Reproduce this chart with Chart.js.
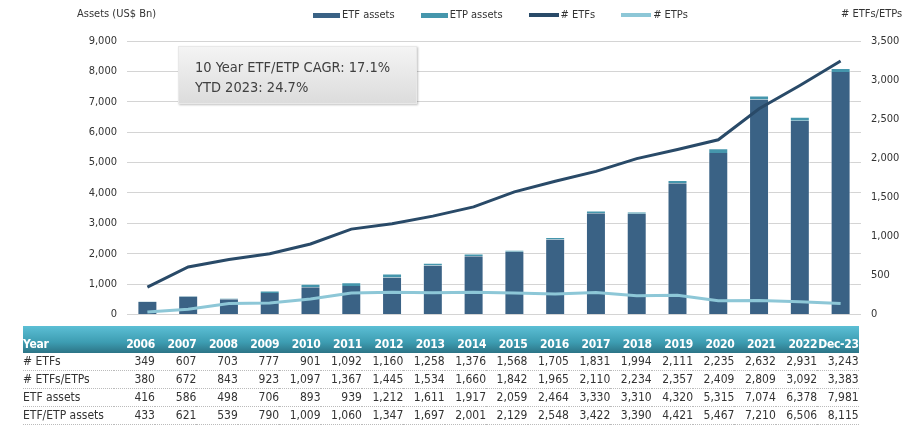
<!DOCTYPE html>
<html><head><meta charset="utf-8">
<script src="https://cdn.jsdelivr.net/npm/chart.js@4"></script>
<style>
body{margin:0;width:910px;height:427px;background:#fff;font-family:Tahoma,"DejaVu Sans Condensed","DejaVu Sans",sans-serif;overflow:hidden;position:relative;color:#333}
#wrap{position:absolute;left:0;top:0;width:910px;height:331px}
#legend{position:absolute;left:313px;top:8px;display:flex;gap:26px;font-size:11px;color:#333;line-height:14px}
#legend .it{display:flex;align-items:center}
#legend .sw{display:inline-block;width:27px;height:5px;margin-right:2px}
#legend .ln{width:30px;height:4px}
.atitle{position:absolute;top:7px;font-size:11px;color:#333}
#box{position:absolute;left:178px;top:46px;width:221px;padding-left:16px;background:linear-gradient(#f4f4f4,#dcdcdc);border:1px solid #e8e8e8;box-shadow:1px 1px 2px rgba(0,0,0,0.25);font-size:14.5px;color:#404040;line-height:20px;padding-top:10px;box-sizing:content-box;height:46px}
#tbl{position:absolute;left:23px;top:326px;border-collapse:collapse;font-size:12px}
#tbl td{padding:0;text-align:right;white-space:nowrap}
#tbl td.lab{text-align:left}
#tbl tr.hd td{background:linear-gradient(#5cbfd5,#3d9db2 60%,#2c7486);color:#fff;font-weight:bold;font-size:12px;letter-spacing:-0.3px;height:26px;vertical-align:bottom;line-height:15px;padding-bottom:1px}
#tbl tr.rw td{height:17px;line-height:17px;border-bottom:1px dotted #bbb;color:#333}
</style></head>
<body>
<div id="wrap"><canvas id="c" width="910" height="331"></canvas></div>
<div id="legend"></div>
<div class="atitle" style="left:77px">Assets (US$ Bn)</div>
<div class="atitle" style="left:841px"># ETFs/ETPs</div>
<div id="box">10 Year ETF/ETP CAGR: 17.1%<br>YTD 2023: 24.7%</div>
<table id="tbl"></table>
<script>
const years = ["2006","2007","2008","2009","2010","2011","2012","2013","2014","2015","2016","2017","2018","2019","2020","2021","2022","Dec-23"];
const numETFs = [349,607,703,777,901,1092,1160,1258,1376,1568,1705,1831,1994,2111,2235,2632,2931,3243];
const numETFsETPs = [380,672,843,923,1097,1367,1445,1534,1660,1842,1965,2110,2234,2357,2409,2809,3092,3383];
const etfAssets = [416,586,498,706,893,939,1212,1611,1917,2059,2464,3330,3310,4320,5315,7074,6378,7981];
const etfEtpAssets = [433,621,539,790,1009,1060,1347,1697,2001,2129,2548,3422,3390,4421,5467,7210,6506,8115];
const leftTicks = {min:0,max:9000,step:1000};
const rightTicks = {min:0,max:3500,step:500};

const etpAssets = etfEtpAssets.map((v,i)=>v-etfAssets[i]);
const numETPs = numETFsETPs.map((v,i)=>v-numETFs[i]);

const C_ETF='#3a6285', C_ETP='#4596ac', C_L1='#294a68', C_L2='#8dc7d7';
const fmt = v => v.toLocaleString('en-US');
const FONT='Tahoma, "DejaVu Sans Condensed", "DejaVu Sans", sans-serif';

const chart = new Chart(document.getElementById('c'),{
  data:{labels:years,datasets:[
    {type:'line',label:'# ETFs',data:numETFs,yAxisID:'y1',borderColor:C_L1,backgroundColor:C_L1,borderWidth:3,pointRadius:0,tension:0,order:0},
    {type:'line',label:'# ETPs',data:numETPs,yAxisID:'y1',borderColor:C_L2,backgroundColor:C_L2,borderWidth:3,pointRadius:0,tension:0,order:1},
    {type:'bar',label:'ETF assets',data:etfAssets,yAxisID:'y',backgroundColor:C_ETF,borderColor:'rgba(255,255,255,0.55)',borderWidth:{left:1,right:1,top:0,bottom:0},stack:'a',order:2,categoryPercentage:1,barPercentage:0.49},
    {type:'bar',label:'ETP assets',data:etpAssets,yAxisID:'y',backgroundColor:C_ETP,borderColor:'rgba(255,255,255,0.55)',borderWidth:{left:1,right:1,top:1,bottom:0},stack:'a',order:2,categoryPercentage:1,barPercentage:0.49}
  ]},
  options:{
    responsive:false,animation:false,
    layout:{padding:{top:41,bottom:7,left:0,right:0}},
    plugins:{legend:{display:false},tooltip:{enabled:false}},
    scales:{
      x:{display:false,stacked:true},
      y:{position:'left',stacked:true,min:leftTicks.min,max:leftTicks.max,
         ticks:{stepSize:leftTicks.step,padding:10,color:'#333',font:{family:FONT,size:11},callback:v=>fmt(v)},
         grid:{color:'#d4d4d4',lineWidth:1,drawTicks:false},border:{display:false},
         afterFit:s=>{s.width=127;}},
      y1:{position:'right',min:rightTicks.min,max:rightTicks.max,
         ticks:{stepSize:rightTicks.step,padding:10,color:'#333',font:{family:FONT,size:11},callback:v=>fmt(v)},
         grid:{display:false,drawTicks:false},border:{display:false},
         afterFit:s=>{s.width=49;}}
    }
  }
});

// legend
const lg=document.getElementById('legend');
[['ETF assets',C_ETF,false],['ETP assets',C_ETP,false],['# ETFs',C_L1,true],['# ETPs',C_L2,true]].forEach(([t,c,ln])=>{
  const it=document.createElement('div');it.className='it';
  it.innerHTML='<span class="sw'+(ln?' ln':'')+'" style="background:'+c+'"></span>'+t;
  lg.appendChild(it);
});

// table
const tbl=document.getElementById('tbl');
const rows=[['Year',years,'hd'],['# ETFs',numETFs,'rw'],['# ETFs/ETPs',numETFsETPs,'rw'],['ETF assets',etfAssets,'rw'],['ETF/ETP assets',etfEtpAssets,'rw']];
rows.forEach(([lab,vals,cls])=>{
  const tr=document.createElement('tr');tr.className=cls;
  let h='<td class="lab" style="width:90.6px;min-width:90.6px;max-width:90.6px">'+lab+'</td>';
  vals.forEach(v=>{h+='<td style="width:41.4px;min-width:41.4px;max-width:41.4px">'+(typeof v==='number'?fmt(v):v)+'</td>';});
  tr.innerHTML=h;tbl.appendChild(tr);
});
</script>
</body></html>
